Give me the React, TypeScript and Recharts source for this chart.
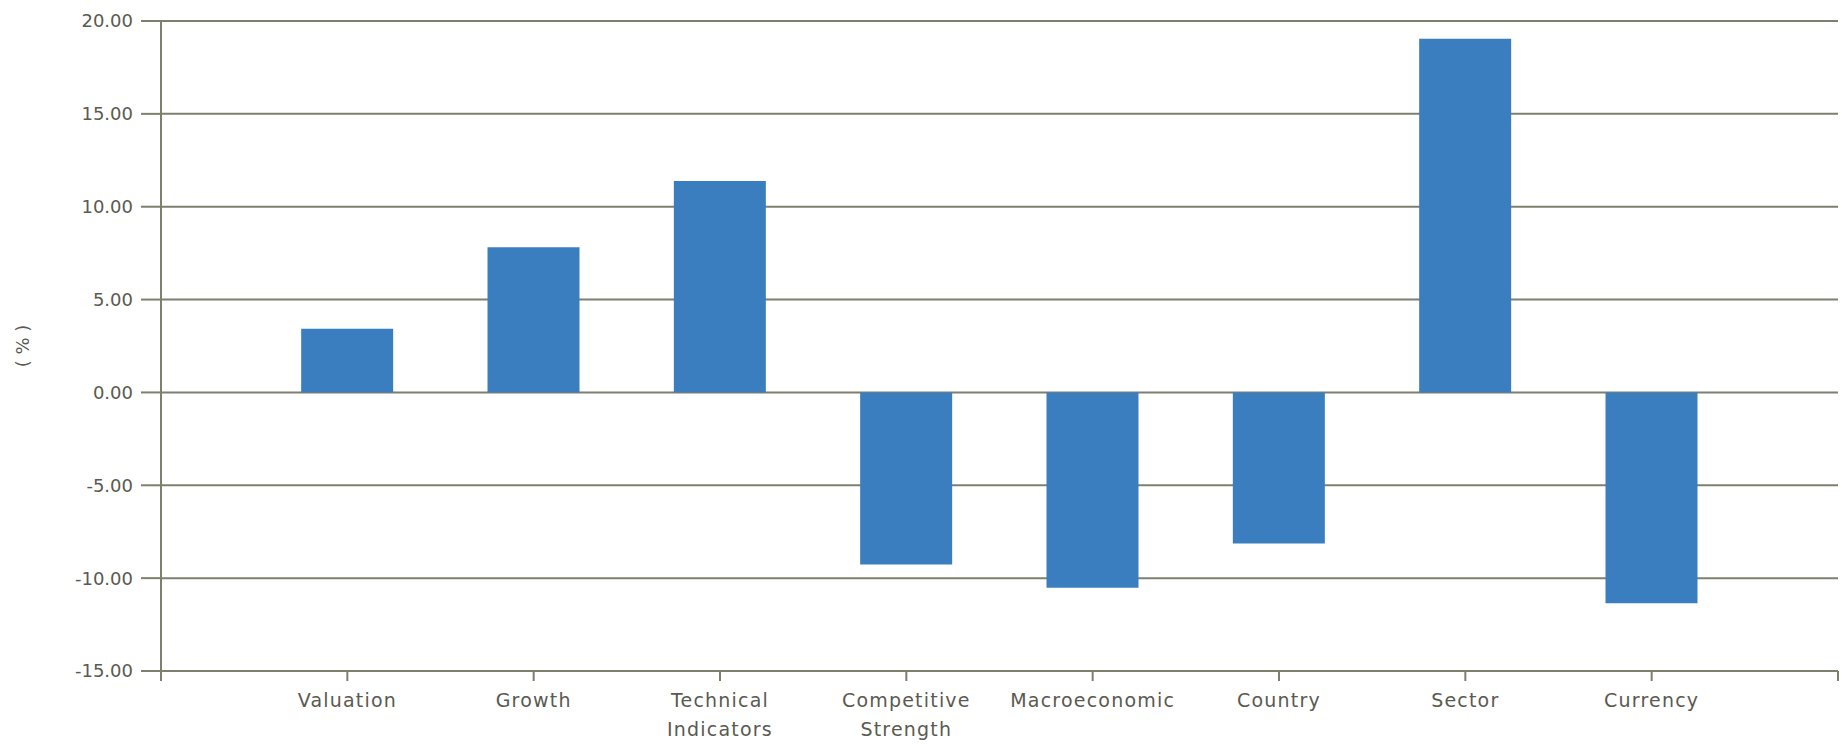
import React from 'react';
import { BarChart, Bar, XAxis, YAxis, CartesianGrid } from 'recharts';

const categories = [
  'Valuation',
  'Growth',
  'Technical Indicators',
  'Competitive Strength',
  'Macroeconomic',
  'Country',
  'Sector',
  'Currency',
];

const values = [3.43, 7.82, 11.38, -9.26, -10.52, -8.13, 19.05, -11.35];

const yTicks = [-15, -10, -5, 0, 5, 10, 15, 20];

const axisColor = '#7f7f6f';
const textColor = '#5a5a50';
const barColor = '#3a7ebf';
const font = '"DejaVu Sans", Verdana, sans-serif';

// slot 0 and the last slot are empty so the axis gets its end ticks
const xTicks = Array.from({ length: categories.length + 2 }, (_, i) => i);

const data = categories.map((name, i) => ({
  pos: i + 1,
  name,
  value: values[i],
}));

function CategoryTick(props: any) {
  const { x, y, payload } = props;
  const label = categories[payload.value - 1];
  if (!label) return null;
  const lines = label.split(' ');
  return (
    <text
      x={x}
      y={y + 26}
      textAnchor="middle"
      fill={textColor}
      fontSize={19}
      fontFamily={font}
      letterSpacing={1.2}
    >
      {lines.map((line, i) => (
        <tspan key={i} x={x} dy={i === 0 ? 0 : 29}>
          {line}
        </tspan>
      ))}
    </text>
  );
}

function UnitLabel(props: any) {
  const { viewBox } = props;
  const cx = viewBox.x + 22;
  const cy = viewBox.y + viewBox.height / 2;
  return (
    <text
      x={cx}
      y={cy}
      transform={`rotate(-90 ${cx} ${cy})`}
      textAnchor="middle"
      dominantBaseline="central"
      fill={textColor}
      fontSize={18}
      fontFamily={font}
    >
      ( % )
    </text>
  );
}

export default function App() {
  return (
    <div style={{ position: 'absolute', left: 0, top: 0, background: '#fff' }}>
      <BarChart
        width={1843}
        height={744}
        data={data}
        margin={{ top: 21, right: 5, bottom: 0, left: 0 }}
      >
        <CartesianGrid horizontal vertical={false} stroke={axisColor} strokeWidth={2} />
        <XAxis
          type="number"
          dataKey="pos"
          domain={[0, categories.length + 1]}
          ticks={xTicks}
          interval={0}
          height={73}
          tickSize={10}
          tickMargin={0}
          stroke={axisColor}
          axisLine={{ stroke: axisColor, strokeWidth: 2 }}
          tickLine={{ stroke: axisColor, strokeWidth: 2 }}
          tick={<CategoryTick />}
        />
        <YAxis
          domain={[-15, 20]}
          ticks={yTicks}
          interval={0}
          width={161}
          tickSize={20}
          tickMargin={8}
          axisLine={{ stroke: axisColor, strokeWidth: 2 }}
          tickLine={{ stroke: axisColor, strokeWidth: 2 }}
          tick={{ fill: textColor, fontSize: 18, fontFamily: font }}
          tickFormatter={(v: number) => v.toFixed(2)}
          label={<UnitLabel />}
        />
        <Bar dataKey="value" fill={barColor} barSize={92} isAnimationActive={false} />
      </BarChart>
    </div>
  );
}
